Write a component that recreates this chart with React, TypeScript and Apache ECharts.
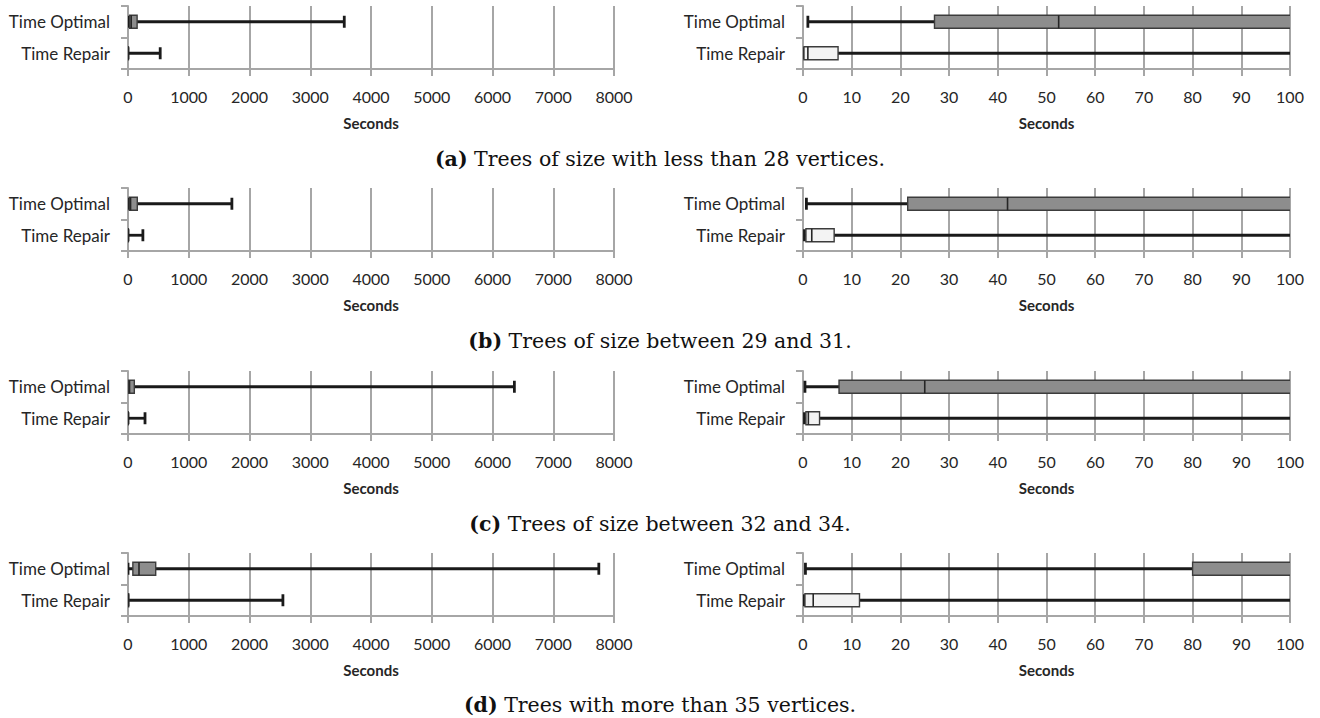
import React, { useEffect, useRef } from 'react';
import * as echarts from 'echarts';

const categories = ['Time Optimal', 'Time Repair'];
const captionLetters = ['(a)', '(b)', '(c)', '(d)'];
const captionTexts = [
  'Trees of size with less than 28 vertices.',
  'Trees of size between 29 and 31.',
  'Trees of size between 32 and 34.',
  'Trees with more than 35 vertices.',
];
// [min, q1, median, q3, max] in seconds, one entry per panel row
const optimalStats = [
  [1.0, 27, 52.5, 150, 3560],
  [0.7, 21.5, 42, 153, 1710],
  [0.4, 7.4, 25, 104, 6360],
  [0.5, 80, 181, 456, 7750],
];
const repairStats = [
  [0.1, 0.2, 1.0, 7.2, 530],
  [0.3, 0.6, 1.8, 6.4, 245],
  [0.3, 0.6, 1.1, 3.4, 280],
  [0.2, 0.4, 2.1, 11.6, 2550],
];
const fullAxis = { min: 0, max: 8000, interval: 1000 };
const zoomAxis = { min: 0, max: 100, interval: 10 };
const axisName = 'Seconds';

// layout
const ROW_TOPS = [6, 188, 371, 553];
const PLOT_H = 63;
const COLS = [
  { left: 128, width: 486, axis: fullAxis },
  { left: 803, width: 487, axis: zoomAxis },
];
const GRAY = '#a6a6a6';
const TXT = '#262626';
const FONT = 'Lato';
const SERIF = 'DejaVu Serif';
const FILLS = ['#8d8d8d', '#f3f3f3'];

export default function App() {
  const ref = useRef<HTMLDivElement>(null);
  useEffect(() => {
    if (!ref.current) return;
    const chart = echarts.init(ref.current, null, { renderer: 'svg' });
    const grid: any[] = [];
    const xAxis: any[] = [];
    const yAxis: any[] = [];
    const series: any[] = [];
    ROW_TOPS.forEach((top, r) => {
      COLS.forEach((col) => {
        const idx = grid.length;
        grid.push({ left: col.left, top, width: col.width, height: PLOT_H, containLabel: false });
        xAxis.push({
          type: 'value',
          gridIndex: idx,
          min: col.axis.min,
          max: col.axis.max,
          interval: col.axis.interval,
          axisLine: { show: true, lineStyle: { color: GRAY, width: 2 } },
          axisTick: { show: true, length: 7, lineStyle: { color: GRAY, width: 2 } },
          splitLine: { show: true, lineStyle: { color: GRAY, width: 2 } },
          axisLabel: {
            fontSize: 16,
            fontFamily: FONT,
            color: TXT,
            margin: 19,
            formatter: (v: number) => String(v),
          },
          name: axisName,
          nameLocation: 'middle',
          nameGap: 46,
          nameTextStyle: { fontSize: 15, fontWeight: 'bold', fontFamily: FONT, color: TXT },
        });
        yAxis.push({
          type: 'category',
          gridIndex: idx,
          data: categories,
          inverse: true,
          offset: 2,
          axisLine: { show: true, lineStyle: { color: GRAY, width: 2 } },
          axisTick: { show: true, length: 7, lineStyle: { color: GRAY, width: 2 } },
          splitLine: { show: false },
          axisLabel: { fontSize: 17, fontFamily: FONT, color: TXT, margin: 16 },
        });
        series.push({
          type: 'custom',
          xAxisIndex: idx,
          yAxisIndex: idx,
          clip: true,
          encode: { x: [1, 2, 3, 4, 5], y: 0 },
          data: [
            [0, ...optimalStats[r]],
            [1, ...repairStats[r]],
          ],
          renderItem: (params: any, api: any) => {
            const cat = api.value(0);
            const vals = [1, 2, 3, 4, 5].map((i) => api.value(i));
            const p = vals.map((v) => api.coord([v, cat]));
            const y = p[0][1];
            const bh = 13;
            const ch = 12;
            const ws = { stroke: '#1a1a1a', lineWidth: 2.8 };
            return {
              type: 'group',
              children: [
                { type: 'line', shape: { x1: p[0][0], y1: y, x2: p[4][0], y2: y }, style: ws },
                { type: 'line', shape: { x1: p[0][0], y1: y - ch / 2, x2: p[0][0], y2: y + ch / 2 }, style: ws },
                { type: 'line', shape: { x1: p[4][0], y1: y - ch / 2, x2: p[4][0], y2: y + ch / 2 }, style: ws },
                {
                  type: 'rect',
                  shape: { x: p[1][0], y: y - bh / 2, width: p[3][0] - p[1][0], height: bh },
                  style: { fill: FILLS[cat], stroke: '#3c3c3c', lineWidth: 1.4 },
                },
                {
                  type: 'line',
                  shape: { x1: p[2][0], y1: y - bh / 2, x2: p[2][0], y2: y + bh / 2 },
                  style: { stroke: '#262626', lineWidth: 1.6 },
                },
              ],
            };
          },
        });
      });
    });
    const captionYs = [159, 341, 524, 705];
    const graphic = captionYs.map((y, i) => ({
      type: 'text',
      x: 660,
      y,
      style: {
        text: '{b|' + captionLetters[i] + '} ' + captionTexts[i],
        rich: { b: { fontWeight: 'bold', fontFamily: SERIF, fontSize: 20.5, fill: '#111' } },
        fontFamily: SERIF,
        fontSize: 20.5,
        fill: '#111',
        align: 'center',
        verticalAlign: 'middle',
      },
    }));
    chart.setOption({
      animation: false,
      backgroundColor: '#fff',
      grid,
      xAxis,
      yAxis,
      series,
      graphic,
    });
    return () => chart.dispose();
  }, []);
  return (
    <div
      ref={ref}
      style={{ position: 'absolute', left: 0, top: 0, width: 1320, height: 718 }}
    />
  );
}
